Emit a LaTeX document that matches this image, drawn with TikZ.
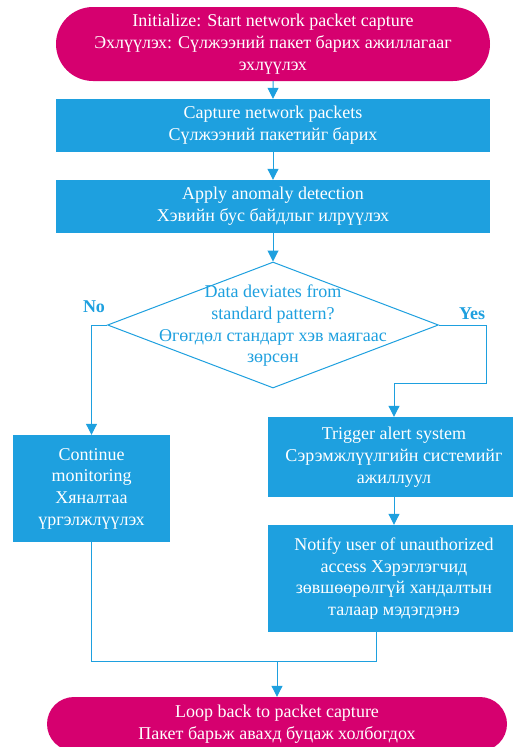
\documentclass[tikz,border=0pt]{standalone}
\usepackage{fontspec}
\setmainfont{Liberation Serif}
\usetikzlibrary{shapes.geometric, shapes.misc, arrows.meta}

\definecolor{flowblue}{RGB}{30,160,223}
\definecolor{flowpink}{RGB}{214,0,111}

\tikzset{
  txt/.style={font=\fontsize{18}{21.7}\selectfont, align=center, inner sep=0pt},
  term/.style={txt, rounded rectangle, fill=flowpink, text=white},
  proc/.style={txt, rectangle, fill=flowblue, text=white},
  decide/.style={diamond, draw=flowblue, line width=1pt, fill=white, inner sep=0pt},
  flow/.style={draw=flowblue, line width=1pt, -{Triangle[width=11pt, length=11pt]}},
  link/.style={draw=flowblue, line width=1pt},
  answer/.style={font=\fontsize{18}{20}\selectfont\bfseries, text=flowblue, inner sep=0pt}
}

\begin{document}
\begin{tikzpicture}[x=1pt, y=1pt]
  \clip (0,0) rectangle (513,-747);
  \node[term, minimum width=434pt, minimum height=74pt] (init) at (273,-44)
    {Initialize: Start network packet capture\\ Эхлүүлэх: Сүлжээний пакет барих ажиллагааг\\ эхлүүлэх};
  \node[proc, minimum width=434pt, minimum height=53pt] (capture) at (273,-125.5)
    {Capture network packets\\ Сүлжээний пакетийг барих};
  \node[proc, minimum width=434pt, minimum height=53pt] (detect) at (273,-206.5)
    {Apply anomaly detection\\ Хэвийн бус байдлыг илрүүлэх};
  \node[decide, minimum width=331pt, minimum height=126pt] (check) at (273,-325) {};
  \node[txt, text=flowblue] (checktext) at (273,-326)
    {Data deviates from\\ standard pattern?\\ Өгөгдөл стандарт хэв маягаас\\ зөрсөн};
  \node[proc, minimum width=157pt, minimum height=107pt] (keepwatch) at (91.5,-488.5)
    {Continue\\ monitoring\\ Хяналтаа\\ үргэлжлүүлэх};
  \node[proc, minimum width=252pt, minimum height=80pt] (alert) at (394,-457)
    {Trigger alert system\\ Сэрэмжлүүлгийн системийг\\ ажиллуул};
  \node[proc, minimum width=252pt, minimum height=107pt] (notify) at (394,-578.5)
    {Notify user of unauthorized\\ access Хэрэглэгчид\\ зөвшөөрөлгүй хандалтын\\ талаар мэдэгдэнэ};
  \node[term, minimum width=460pt, minimum height=54pt] (loop) at (277,-724)
    {Loop back to packet capture\\ Пакет барьж авахд буцаж холбогдох};
  \node[answer] (no) at (94,-307) {No};
  \node[answer] (yes) at (472,-314) {Yes};

  \coordinate (yesturn) at (486,-383);
  \coordinate (joinright) at (376,-661);
  \coordinate (joinmid) at (277,-661);

  \draw[flow] (init) -- (capture);
  \draw[flow] (capture) -- (detect);
  \draw[flow] (detect) -- (check.north);
  \draw[flow] (check.west) -| (keepwatch.north);
  \draw[flow] (check.east) -| (yesturn) -| (alert.north);
  \draw[flow] (alert) -- (notify);
  \draw[link] (keepwatch.south) |- (joinright) -- (joinright |- notify.south);
  \draw[flow] (joinmid) -- (loop.north);
\end{tikzpicture}
\end{document}
